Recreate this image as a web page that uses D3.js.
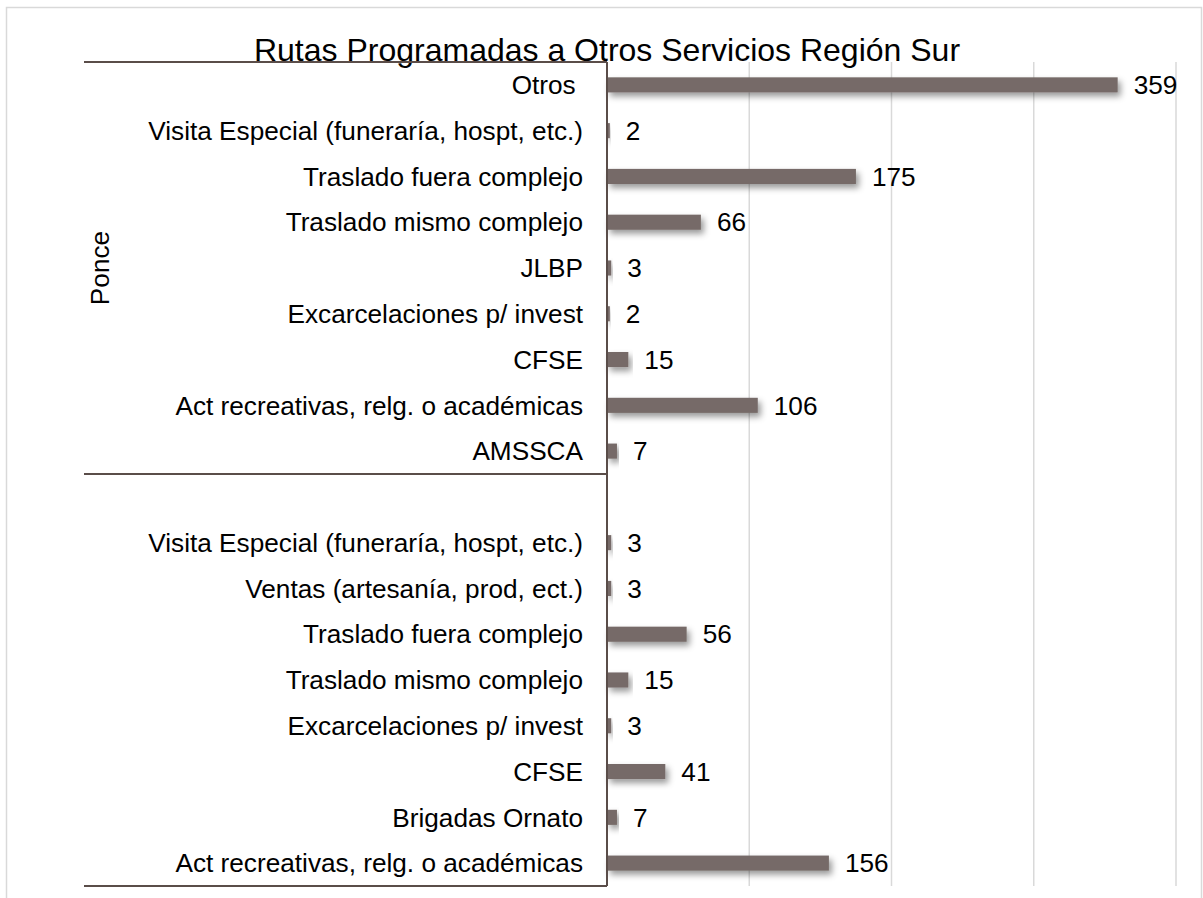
<!DOCTYPE html>
<html>
<head>
<meta charset="utf-8">
<script src="https://cdn.jsdelivr.net/npm/d3@7"></script>
<style>
  html, body { margin: 0; padding: 0; background: #fff; }
  svg { display: block; font-family: "Liberation Sans", Arial, sans-serif; }
  text { white-space: pre; }
</style>
</head>
<body>
<svg id="chart" width="1203" height="898"></svg>
<script>
// ---- data ----
const title = "Rutas Programadas a Otros Servicios Región Sur";
const groupNames = ["Ponce", ""];
const group1Categories = ["Otros ", "Visita Especial (funeraría, hospt, etc.)", "Traslado fuera complejo", "Traslado mismo complejo", "JLBP", "Excarcelaciones p/ invest", "CFSE", "Act recreativas, relg. o académicas", "AMSSCA"];
const group1Values = [359, 2, 175, 66, 3, 2, 15, 106, 7];
const group2Categories = ["", "Visita Especial (funeraría, hospt, etc.)", "Ventas (artesanía, prod, ect.)", "Traslado fuera complejo", "Traslado mismo complejo", "Excarcelaciones p/ invest", "CFSE", "Brigadas Ornato", "Act recreativas, relg. o académicas"];
const group2Values = [null, 3, 3, 56, 15, 3, 41, 7, 156];
const xTicks = [0, 100, 200, 300, 400];

// ---- build rows ----
const rows = [];
group1Categories.forEach((c, i) => rows.push({ group: 0, label: c, value: group1Values[i] }));
group2Categories.forEach((c, i) => rows.push({ group: 1, label: c, value: group2Values[i] }));
rows.forEach((r, i) => r.id = i);

const svg = d3.select("#chart");
const plot = { left: 607, right: 1176, top: 62, bottom: 886 };
const fs = 26.2;

const x = d3.scaleLinear().domain([0, 400]).range([plot.left, plot.right]);
const y = d3.scaleBand().domain(rows.map(r => r.id)).range([plot.top, plot.bottom])
  .paddingInner(0.67).paddingOuter(0.335);

// shadow filter
const defs = svg.append("defs");
const f = defs.append("filter").attr("id", "shadow").attr("x", "-10%").attr("y", "-60%").attr("width", "130%").attr("height", "260%");
f.append("feDropShadow").attr("dx", 3).attr("dy", 4).attr("stdDeviation", 3).attr("flood-color", "#000").attr("flood-opacity", 0.4);

// outer border
svg.append("rect").attr("x", 6.5).attr("y", 7.5).attr("width", 1195).attr("height", 900)
  .attr("fill", "none").attr("stroke", "#d9d9d9").attr("stroke-width", 1.5);

// title
svg.append("text").attr("x", 607).attr("y", 61).attr("text-anchor", "middle")
  .attr("font-size", 32).attr("fill", "#000").text(title);

// gridlines
svg.append("g").selectAll("line").data(xTicks.filter(t => t > 0)).join("line")
  .attr("x1", d => x(d)).attr("x2", d => x(d))
  .attr("y1", plot.top).attr("y2", plot.bottom)
  .attr("stroke", "#d9d9d9").attr("stroke-width", 1.5);

// bars
svg.append("g").selectAll("rect").data(rows.filter(r => r.value != null)).join("rect")
  .attr("x", x(0)).attr("y", d => y(d.id))
  .attr("width", d => Math.max(x(d.value) - x(0), 1.5))
  .attr("height", y.bandwidth())
  .attr("fill", "#766b68")
  .attr("filter", "url(#shadow)");

// value labels
svg.append("g").selectAll("text").data(rows.filter(r => r.value != null)).join("text")
  .attr("x", d => x(d.value) + 16)
  .attr("y", d => y(d.id) + y.bandwidth() / 2)
  .attr("dy", "0.35em")
  .attr("font-size", fs).attr("fill", "#000")
  .text(d => d.value);

// category labels
svg.append("g").selectAll("text").data(rows).join("text")
  .attr("x", plot.left - 24)
  .attr("y", d => y(d.id) + y.bandwidth() / 2)
  .attr("dy", "0.35em")
  .attr("text-anchor", "end")
  .attr("font-size", fs).attr("fill", "#000")
  .text(d => d.label);

// group separators and axis line
const axisColor = "#5a4d49";
const step = y.step();
const boundaries = [plot.top, plot.top + step * group1Categories.length, plot.bottom];
svg.append("g").selectAll("line").data(boundaries).join("line")
  .attr("x1", 84).attr("x2", plot.left)
  .attr("y1", d => d).attr("y2", d => d)
  .attr("stroke", axisColor).attr("stroke-width", 2);
svg.append("line").attr("x1", plot.left).attr("x2", plot.left)
  .attr("y1", plot.top).attr("y2", plot.bottom)
  .attr("stroke", axisColor).attr("stroke-width", 2);

// group labels
svg.append("g").selectAll("text").data(groupNames).join("text")
  .attr("transform", (d, i) => `translate(100,${(boundaries[i] + boundaries[i + 1]) / 2}) rotate(-90)`)
  .attr("text-anchor", "middle").attr("dy", "0.35em")
  .attr("font-size", fs).attr("fill", "#000")
  .text(d => d);
</script>
</body>
</html>
